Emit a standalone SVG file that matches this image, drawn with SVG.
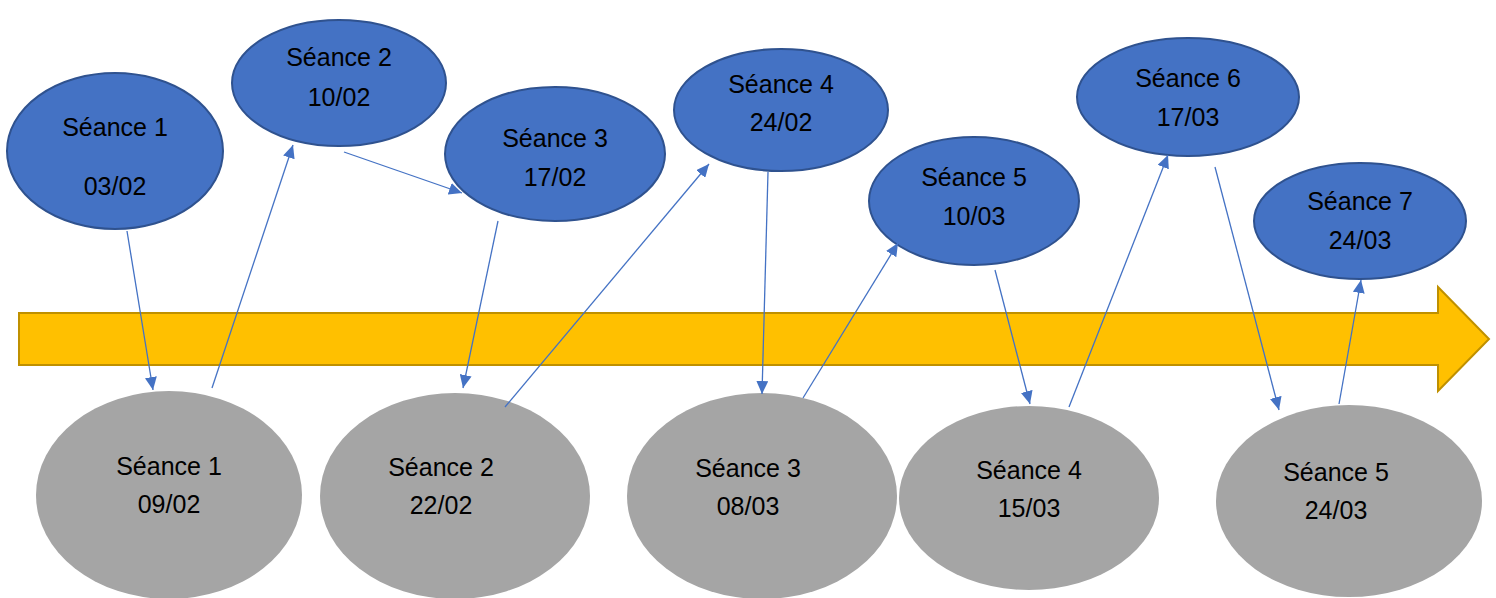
<svg xmlns="http://www.w3.org/2000/svg" width="1496" height="598" viewBox="0 0 1496 598">
<style>
.blue{fill:#4472C4;stroke:#2F528F;stroke-width:2}
.gray{fill:#A5A5A5;stroke:none}
text{font-family:"Liberation Sans",Arial,sans-serif;font-size:25px;fill:#000;text-anchor:middle}
.conn line{stroke:#4472C4;stroke-width:1.3;marker-end:url(#ah)}
</style>
<defs>
<marker id="ah" markerUnits="userSpaceOnUse" markerWidth="13" markerHeight="12" refX="13" refY="6" orient="auto">
<path d="M0,0 L13,6 L0,12 z" fill="#4472C4"/>
</marker>
</defs>
<rect width="1496" height="598" fill="#fff"/>
<g id="timeline">
<path d="M19,313 L1438,313 L1438,287 L1489,339 L1438,391 L1438,365 L19,365 Z" fill="#FFC000" stroke="#BF9000" stroke-width="2"/>
</g>
<g id="b1"><ellipse class="blue" cx="115" cy="151" rx="108" ry="78"/><text x="115" y="136">Séance 1</text><text x="115" y="195">03/02</text></g>
<g id="b2"><ellipse class="blue" cx="339" cy="83" rx="107" ry="63"/><text x="339" y="66">Séance 2</text><text x="339" y="106">10/02</text></g>
<g id="b3"><ellipse class="blue" cx="555" cy="154" rx="110" ry="67"/><text x="555" y="147">Séance 3</text><text x="555" y="186">17/02</text></g>
<g id="b4"><ellipse class="blue" cx="781" cy="110" rx="107" ry="61"/><text x="781" y="93">Séance 4</text><text x="781" y="131">24/02</text></g>
<g id="b5"><ellipse class="blue" cx="974" cy="201" rx="105" ry="64"/><text x="974" y="186">Séance 5</text><text x="974" y="225">10/03</text></g>
<g id="b6"><ellipse class="blue" cx="1188" cy="97" rx="111" ry="59"/><text x="1188" y="87">Séance 6</text><text x="1188" y="126">17/03</text></g>
<g id="b7"><ellipse class="blue" cx="1360" cy="221" rx="106" ry="58"/><text x="1360" y="210">Séance 7</text><text x="1360" y="249">24/03</text></g>
<g id="g1"><ellipse class="gray" cx="169" cy="495" rx="133" ry="104"/><text x="169" y="475">Séance 1</text><text x="169" y="513">09/02</text></g>
<g id="g2"><ellipse class="gray" cx="455" cy="496" rx="135" ry="103"/><text x="441" y="476">Séance 2</text><text x="441" y="514">22/02</text></g>
<g id="g3"><ellipse class="gray" cx="762" cy="496" rx="135" ry="103"/><text x="748" y="477">Séance 3</text><text x="748" y="515">08/03</text></g>
<g id="g4"><ellipse class="gray" cx="1029" cy="498" rx="130" ry="92"/><text x="1029" y="479">Séance 4</text><text x="1029" y="517">15/03</text></g>
<g id="g5"><ellipse class="gray" cx="1349" cy="501" rx="133" ry="96"/><text x="1336" y="481">Séance 5</text><text x="1336" y="519">24/03</text></g>
<g id="connectors" class="conn">
<line x1="127" y1="231" x2="153" y2="390"/>
<line x1="212" y1="388" x2="293" y2="145"/>
<line x1="344" y1="152" x2="462" y2="193"/>
<line x1="498" y1="221" x2="463" y2="388"/>
<line x1="505" y1="407" x2="709" y2="164"/>
<line x1="768" y1="172" x2="762" y2="394"/>
<line x1="803" y1="398" x2="898" y2="243"/>
<line x1="995" y1="270" x2="1030" y2="404"/>
<line x1="1069" y1="407" x2="1168" y2="155"/>
<line x1="1215" y1="167" x2="1279" y2="410"/>
<line x1="1339" y1="404" x2="1361" y2="280"/>
</g>
</svg>
